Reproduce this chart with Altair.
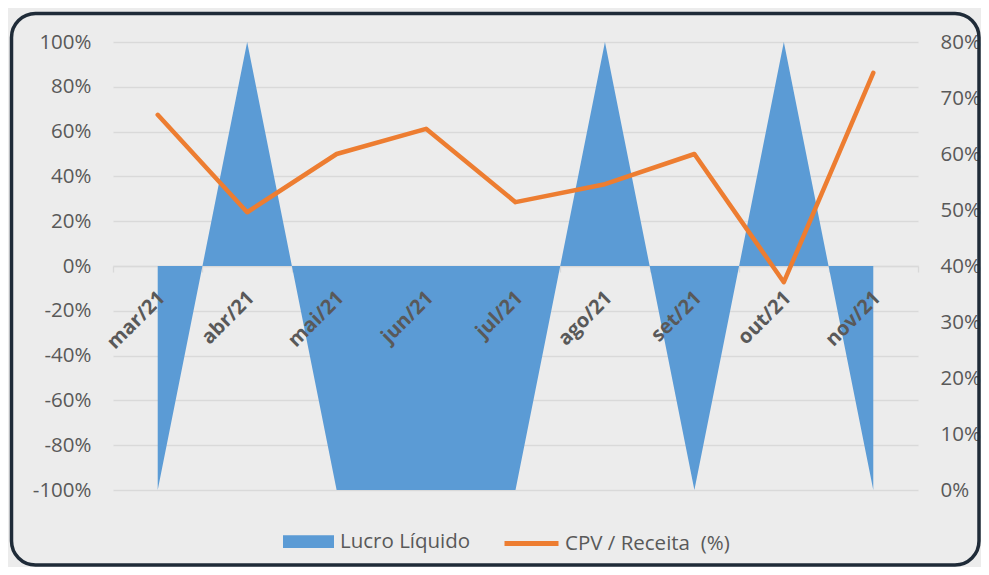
import altair as alt
import pandas as pd

# ---- data ----
meses = ["mar/21", "abr/21", "mai/21", "jun/21", "jul/21", "ago/21", "set/21", "out/21", "nov/21"]
lucro_liquido = [-1.0, 1.0, -1.0, -1.0, -1.0, 1.0, -1.0, 1.0, -1.0]
cpv_receita = [0.670, 0.496, 0.600, 0.645, 0.514, 0.546, 0.600, 0.371, 0.745]
left_ticks = [-1.0, -0.8, -0.6, -0.4, -0.2, 0.0, 0.2, 0.4, 0.6, 0.8, 1.0]
right_ticks = [0.0, 0.1, 0.2, 0.3, 0.4, 0.5, 0.6, 0.7, 0.8]
boundaries = [-0.5, 0.5, 1.5, 2.5, 3.5, 4.5, 5.5, 6.5, 7.5, 8.5]
serie_area = "Lucro Líquido"
serie_linha = "CPV / Receita \u00a0(%)"

df = pd.DataFrame({
    "i": list(range(len(meses))),
    "mes": meses,
    "lucro": lucro_liquido,
    "cpv": cpv_receita,
    "zero": [0.0] * len(meses),
    "s1": [serie_area] * len(meses),
    "s2": [serie_linha] * len(meses),
})

FONT = "Open Sans"
GRAY = "#595959"
GRID = "#d9d9d9"
HYPHEN_LABEL = "replace(datum.label, '\u2212', '-')"

xaxis = alt.Axis(values=boundaries, labels=False, title=None, grid=False,
                 ticks=True, tickSize=6, tickColor=GRID, tickWidth=1.3,
                 domainColor=GRID, domainWidth=1.3, offset=-224)
xenc = alt.X("i:Q", scale=alt.Scale(domain=[-0.5, 8.5], nice=False, zero=False), axis=xaxis)

yleft_axis = alt.Axis(values=left_ticks, format=".0%", labelExpr=HYPHEN_LABEL, title=None,
                      grid=True, gridColor=GRID, gridWidth=1.3, ticks=False, domain=False,
                      labelFont=FONT, labelFontSize=20.5, labelColor=GRAY, labelPadding=22)
yleft_scale = alt.Scale(domain=[-1, 1], nice=False)

yright_axis = alt.Axis(orient="right", values=right_ticks, format=".0%", title=None,
                       grid=False, ticks=False, domain=False, labelFont=FONT,
                       labelFontSize=20.5, labelColor=GRAY, labelPadding=22)

area = alt.Chart(df).mark_area(opacity=1).encode(
    x=xenc,
    y=alt.Y("lucro:Q", scale=yleft_scale, axis=yleft_axis),
    color=alt.Color("s1:N", scale=alt.Scale(domain=[serie_area], range=["#5b9bd5"]),
                    legend=alt.Legend(orient="none", legendX=170, legendY=474, title=None,
                                      symbolType="M-1,-0.25H1V0.25H-1Z", symbolSize=2601,
                                      symbolStrokeWidth=0, symbolOpacity=1,
                                      labelFont=FONT, labelFontSize=20.5, labelColor=GRAY,
                                      labelOffset=6, labelLimit=400, padding=0)),
)

labels = alt.Chart(df).mark_text(
    angle=315, align="right", baseline="middle", font=FONT, fontSize=20,
    fontWeight="bold", color=GRAY, xOffset=4, yOffset=29,
).encode(
    x=xenc,
    y=alt.Y("zero:Q", scale=yleft_scale, axis=yleft_axis),
    text="mes:N",
)

line = alt.Chart(df).mark_line(strokeWidth=4.5, strokeCap="round", strokeJoin="round").encode(
    x=xenc,
    y=alt.Y("cpv:Q", scale=alt.Scale(domain=[0, 0.8], nice=False), axis=yright_axis),
    stroke=alt.Stroke("s2:N", scale=alt.Scale(domain=[serie_linha], range=["#ed7d31"]),
                      legend=alt.Legend(orient="none", legendX=389, legendY=472, title=None,
                                        symbolType="stroke", symbolSize=2916,
                                        symbolStrokeWidth=5, labelFont=FONT,
                                        labelFontSize=20.5, labelColor=GRAY,
                                        labelOffset=4, labelLimit=400, padding=0)),
)

frame = alt.Chart(pd.DataFrame({"f": [0]})).mark_rect(
    fill="transparent", stroke="#1f2b38", strokeWidth=3.5, cornerRadius=24
).encode(
    x=alt.value(-101.5), x2=alt.value(866),
    y=alt.value(-28.5), y2=alt.value(523),
)

left_part = alt.layer(area, labels)
chart = alt.layer(left_part, line, frame).resolve_scale(y="independent").properties(
    width=805, height=448,
    padding={"left": 105, "top": 34, "right": 63, "bottom": 77},
    autosize=alt.AutoSizeParams(type="none"),
).configure(background="#ececec").configure_view(stroke="transparent")

chart.save("out.html", embed_options={"renderer": "svg", "actions": False})
